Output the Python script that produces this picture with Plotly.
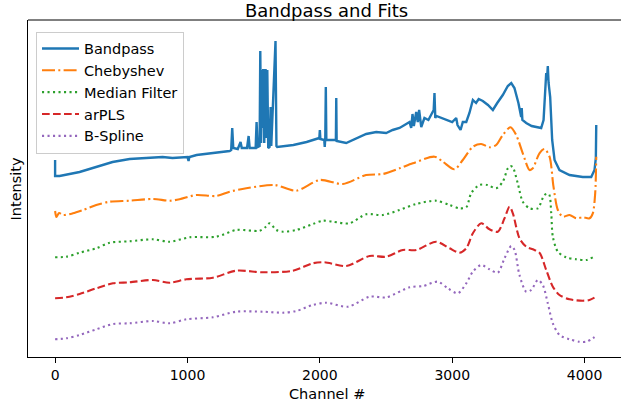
import plotly.graph_objects as go

# Raw bandpass (channel, intensity) samples
band_ch = [0, 0, 8, 34, 185, 313, 434, 563, 691, 812, 887, 1000, 1008, 1015, 1069, 1190,
           1318, 1330, 1338, 1346, 1380, 1401, 1410, 1450, 1462, 1470, 1515, 1522, 1530,
           1545, 1550, 1556, 1562, 1567, 1572, 1580, 1590, 1596, 1603, 1610, 1620, 1628,
           1633, 1665, 1672, 1678, 1800, 1900, 1990, 1996, 2000, 2004, 2033, 2037, 2041,
           2045, 2049, 2100, 2121, 2124, 2127, 2199, 2250, 2300, 2350, 2426, 2501, 2550,
           2602, 2640, 2677, 2690, 2700, 2710, 2728, 2740, 2750, 2766, 2790, 2820, 2860,
           2866, 2872, 2880, 2955, 3000, 3030, 3040, 3063, 3080, 3106, 3130, 3156, 3180,
           3200, 3231, 3270, 3307, 3340, 3382, 3420, 3446, 3470, 3500, 3521, 3525, 3530,
           3559, 3600, 3640, 3672, 3690, 3700, 3710, 3716, 3722, 3728, 3740, 3755, 3773,
           3810, 3850, 3886, 3986, 4050, 4075, 4085, 4088]
band_val = [198, 182, 182, 182, 186, 191, 196, 199, 200, 201, 200, 201, 197, 201, 203, 205,
            207, 208, 230, 210, 209, 216, 210, 210, 222, 210, 210, 236, 211,
            212, 307, 215, 288, 230, 289, 215, 289, 220, 288, 210, 211, 251,
            212, 317, 212, 211, 213, 216, 220, 220, 228, 219, 218, 211, 220,
            271, 218, 218, 218, 260, 217, 215, 218, 221, 224, 226, 225, 228,
            230, 233, 236, 230, 244, 232, 246, 236, 248, 231, 240, 238, 248,
            265, 240, 242, 238, 236, 240, 233, 228, 236, 236, 245, 258, 255,
            259, 257, 253, 248, 255, 263, 272, 275, 270, 255, 241, 250, 238,
            235, 232, 231, 230, 238, 268, 285, 278, 292, 275, 261, 218, 198,
            188, 185, 183, 181, 181, 188, 200, 233]

# Chebyshev fit
cheb_ch = [0, 10, 30, 59, 134, 210, 311, 412, 563, 739, 865, 940, 1066, 1218, 1318, 1444,
           1658, 1822, 1998, 2174, 2350, 2476, 2602, 2702, 2866, 2929, 3017, 3080, 3156,
           3219, 3282, 3332, 3382, 3440, 3483, 3533, 3584, 3609, 3659, 3697, 3735, 3765,
           3798, 3835, 3886, 3937, 3986, 4037, 4062, 4080, 4088]
cheb_val = [147, 141, 145, 143, 144.7, 148, 153, 156.3, 157.3, 159, 157.3, 158.7, 163, 162,
            166.3, 169.7, 173, 167.3, 178, 174, 183, 184, 189.7, 194.7, 201.3, 196.3,
            188.7, 198, 211.3, 214, 210.7, 213, 223, 230.7, 223, 204.7, 188, 189.7,
            204.7, 209, 201.3, 171.3, 148, 141.3, 143, 139.7, 140.7, 139.7, 144.7,
            164.7, 201.3]

# Median filter fit
med_ch = [0, 85, 185, 311, 412, 563, 739, 865, 1016, 1218, 1369, 1545, 1590, 1620, 1671,
          1721, 1822, 1947, 2023, 2098, 2224, 2350, 2476, 2602, 2728, 2879, 2980, 3055,
          3106, 3143, 3206, 3267, 3332, 3382, 3420, 3440, 3458, 3495, 3533, 3584, 3647,
          3697, 3730, 3748, 3760, 3798, 3861, 3937, 4012, 4062]
med_val = [100.7, 101.3, 105.3, 109.7, 115.3, 116.7, 118.7, 116.3, 120.7, 121.3, 128,
           127.3, 131, 134.7, 128, 126.3, 128, 134, 137.3, 136.3, 134.7, 143.7, 143, 148,
           154, 157.3, 153, 149.7, 150.7, 164.7, 173, 173, 169.7, 176.3, 189.7, 192,
           190.7, 174.7, 156.3, 149.7, 149.7, 163, 164, 144.7, 121.3, 106.3, 100.7, 98.7,
           98, 100.7]

# arPLS fit
arpls_ch = [0, 85, 185, 311, 437, 563, 739, 865, 991, 1192, 1369, 1570, 1796, 1947, 2035,
            2199, 2376, 2501, 2627, 2728, 2879, 2980, 3055, 3106, 3156, 3219, 3282, 3344,
            3395, 3433, 3458, 3508, 3559, 3609, 3659, 3710, 3760, 3810, 3886, 3986, 4037,
            4088]
arpls_val = [59.7, 60.7, 64, 69.7, 74.7, 75.7, 78, 75.3, 78.7, 80.3, 87.3, 85.7, 87.3,
             94.7, 95.7, 92, 102, 101.3, 108, 108, 116.3, 109.7, 105.3, 109.7, 124.7,
             134.7, 128.7, 126.3, 139.7, 151.3, 144.7, 119.7, 111.3, 108.7, 105.3, 88,
             71.3, 63, 58.7, 57.3, 58, 61.3]

# B-spline fit
bspl_ch = [0, 85, 185, 311, 437, 563, 739, 865, 991, 1192, 1369, 1570, 1721, 1822, 1947,
           2048, 2212, 2376, 2501, 2677, 2778, 2891, 2967, 3042, 3106, 3156, 3219, 3282,
           3344, 3395, 3446, 3471, 3508, 3559, 3597, 3647, 3684, 3722, 3760, 3810, 3886,
           3961, 4012, 4062, 4088]
bspl_val = [18.7, 19.7, 23, 28.7, 34, 34.7, 37, 34.7, 38.7, 40.7, 46.3, 46.3, 45.3, 47,
            53, 55.3, 51.3, 61.3, 60.7, 70.7, 72, 76.3, 69.7, 64.7, 74.7, 86.3, 93, 88.7,
            85.3, 99.7, 112, 108, 83, 66.3, 68, 78, 73, 54.7, 34.7, 23, 18.7, 16.3, 16.3,
            19.7, 22]

x_ticks = [0, 1000, 2000, 3000, 4000]

FONT = "DejaVu Sans"

fig = go.Figure()
fig.add_trace(go.Scatter(x=band_ch, y=band_val, mode="lines", name="Bandpass",
                         line=dict(color="#1f77b4", width=2.4)))
fig.add_trace(go.Scatter(x=cheb_ch, y=cheb_val, mode="lines", name="Chebyshev",
                         line=dict(color="#ff7f0e", width=2.1, dash="13px,3.3px,2px,3.3px",
                                   shape="spline", smoothing=0.8)))
fig.add_trace(go.Scatter(x=med_ch, y=med_val, mode="lines", name="Median Filter",
                         line=dict(color="#2ca02c", width=2.1, dash="2.1px,3.4px",
                                   shape="spline", smoothing=0.8)))
fig.add_trace(go.Scatter(x=arpls_ch, y=arpls_val, mode="lines", name="arPLS",
                         line=dict(color="#d62728", width=2.1, dash="7.7px,3.3px",
                                   shape="spline", smoothing=0.8)))
fig.add_trace(go.Scatter(x=bspl_ch, y=bspl_val, mode="lines", name="B-Spline",
                         line=dict(color="#9467bd", width=2.1, dash="2.1px,3.4px",
                                   shape="spline", smoothing=0.8)))

fig.update_layout(
    width=621, height=407,
    margin=dict(l=28, r=0, t=20, b=50),
    plot_bgcolor="white", paper_bgcolor="white",
    font=dict(family=FONT, size=14, color="#000"),
    title=dict(text="Bandpass and Fits", x=326.5 / 621, xanchor="center",
               y=1 - 11 / 407, yanchor="middle", yref="container",
               font=dict(size=18, family=FONT, color="#000")),
    showlegend=True,
    legend=dict(x=8 / 593, y=(357 - 31.5) / 337, xanchor="left", yanchor="top",
                bgcolor="rgba(255,255,255,0.8)", bordercolor="#cccccc", borderwidth=1,
                font=dict(size=14.5, family=FONT, color="#000"),
                tracegroupgap=0, itemwidth=37),
    xaxis=dict(range=[-204.75, 4275], tickvals=x_ticks, ticktext=[str(t) for t in x_ticks],
               showgrid=False, zeroline=False, showline=True, linecolor="#000",
               linewidth=1, ticks="outside", ticklen=5, tickwidth=1, tickcolor="#000",
               tickfont=dict(size=14, family=FONT, color="#000")),
    yaxis=dict(range=[1, 338], showgrid=False, zeroline=False, showline=True,
               linecolor="#000", linewidth=1, showticklabels=False, ticks=""),
    shapes=[dict(type="line", xref="paper", yref="paper", x0=0, x1=1, y0=1, y1=1,
                 line=dict(color="#000", width=1))],
    annotations=[
        dict(text="Channel #", xref="paper", yref="paper", x=(326.5 - 28) / 593,
             y=(357 - 394) / 337, xanchor="center", yanchor="middle", showarrow=False,
             font=dict(size=14.5, family=FONT, color="#000")),
        dict(text="Intensity", xref="paper", yref="paper", x=0, xshift=-13,
             y=0.5, xanchor="center", yanchor="middle", textangle=-90, showarrow=False,
             font=dict(size=14.5, family=FONT, color="#000")),
    ],
)

fig.write_html("out.html")
